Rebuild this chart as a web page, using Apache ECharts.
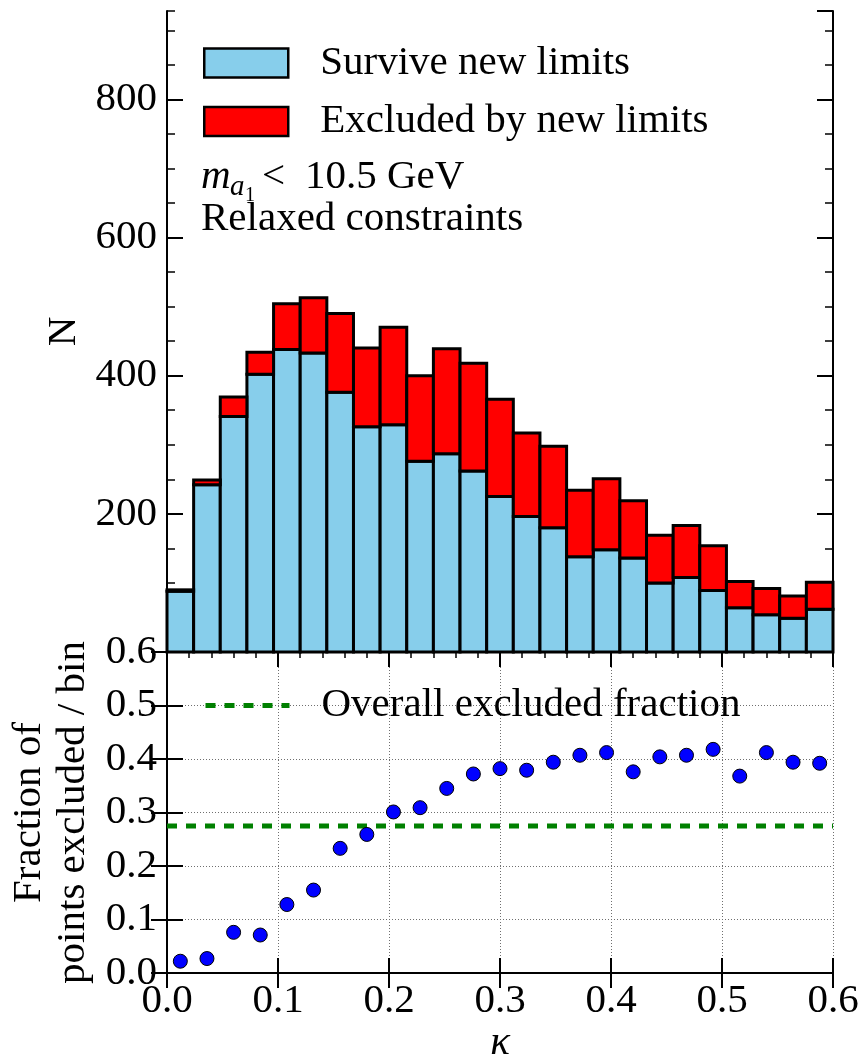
<!DOCTYPE html>
<html>
<head>
<meta charset="utf-8">
<script src="https://cdn.jsdelivr.net/npm/echarts@6/dist/echarts.min.js"></script>
<style>
  html, body { margin: 0; padding: 0; background: #fff; }
  #chart { width: 862px; height: 1060px; }
</style>
</head>
<body>
<div id="chart"></div>
<script>
// kappa bins (edges and centres)
const kappaEdges = [0.000, 0.024, 0.048, 0.072, 0.096, 0.120, 0.144, 0.168, 0.192, 0.216,
                    0.240, 0.264, 0.288, 0.312, 0.336, 0.360, 0.384, 0.408, 0.432, 0.456,
                    0.480, 0.504, 0.528, 0.552, 0.576, 0.600];
const kappaCenters = [0.012, 0.036, 0.060, 0.084, 0.108, 0.132, 0.156, 0.180, 0.204, 0.228,
                      0.252, 0.276, 0.300, 0.324, 0.348, 0.372, 0.396, 0.420, 0.444, 0.468,
                      0.492, 0.516, 0.540, 0.564, 0.588];

// points per bin
const surviveCounts  = [88, 242, 341, 402, 438, 433, 376, 326, 329, 276, 287, 262, 225,
                        196, 180, 138, 148, 136, 100, 108, 89, 64, 54, 49, 62];
const excludedCounts = [2, 7, 28, 32, 66, 80, 114, 114, 141, 124, 152, 156, 141,
                        121, 118, 96, 103, 83, 69, 75, 65, 38, 38, 32, 39];

// excluded fraction per bin
const excludedFraction = [0.022, 0.027, 0.076, 0.071, 0.128, 0.155, 0.233, 0.259, 0.301, 0.309,
                          0.345, 0.372, 0.382, 0.379, 0.394, 0.407, 0.412, 0.376, 0.404, 0.407,
                          0.418, 0.368, 0.412, 0.394, 0.392];
const overallExcludedFraction = 0.275;

// tick labels
const countTickLabels = ['200', '400', '600', '800'];
const fractionTickLabels = ['0.0', '0.1', '0.2', '0.3', '0.4', '0.5', '0.6'];
const kappaTickLabels = ['0.0', '0.1', '0.2', '0.3', '0.4', '0.5', '0.6'];

const SERIF = "'Liberation Serif', 'Times New Roman', 'DejaVu Serif', serif";
const FS = 41;

const surviveData = kappaEdges.slice(0, -1).map((lo, i) =>
  [lo, kappaEdges[i + 1], 0, surviveCounts[i]]);
const excludedData = kappaEdges.slice(0, -1).map((lo, i) =>
  [lo, kappaEdges[i + 1], surviveCounts[i], surviveCounts[i] + excludedCounts[i]]);
const fractionData = kappaCenters.map((k, i) => [k, excludedFraction[i]]);

// one stacked histogram segment per bin, outlined in black
function histSegment(color) {
  return function (params, api) {
    const p0 = api.coord([api.value(0), api.value(2)]);
    const p1 = api.coord([api.value(1), api.value(3)]);
    return {
      type: 'rect',
      shape: { x: p0[0], y: p1[1], width: p1[0] - p0[0], height: p0[1] - p1[1] },
      style: { fill: color, stroke: '#000', lineWidth: 3 }
    };
  };
}

const axisLine = { show: true, lineStyle: { color: '#000', width: 2 } };
const dotted = { show: true, lineStyle: { color: '#6f6f6f', width: 1, type: [1, 2] } };

function kappaAxis(grid, pos, opts) {
  return Object.assign({
    type: 'value', gridIndex: grid, position: pos, min: 0, max: 0.6, interval: 0.1,
    axisLine: axisLine,
    axisTick: { show: true, inside: true, length: 15, lineStyle: { color: '#000', width: 2 } },
    axisLabel: { show: false },
    splitLine: { show: false }
  }, opts);
}

const minorKappaTicks = { show: true, splitNumber: 5, length: 6, lineStyle: { color: '#000', width: 1.5 } };

const option = {
  animation: false,
  backgroundColor: '#fff',
  textStyle: { fontFamily: SERIF },
  grid: [
    { left: 167, top: 11, width: 666, height: 641, outerBoundsMode: 'none', containLabel: false },
    { left: 167, top: 652, width: 666, height: 321, outerBoundsMode: 'none', containLabel: false }
  ],
  xAxis: [
    kappaAxis(0, 'bottom', { minorTick: minorKappaTicks }),
    kappaAxis(0, 'top', { minorTick: minorKappaTicks }),
    kappaAxis(1, 'bottom', {
      splitLine: dotted,
      axisLabel: {
        show: true, margin: 8, fontFamily: SERIF, fontSize: FS, color: '#000',
        formatter: v => kappaTickLabels[Math.round(v * 10)]
      },
      name: 'κ', nameLocation: 'middle', nameGap: 47,
      nameTextStyle: { fontFamily: SERIF, fontSize: FS, fontStyle: 'italic', color: '#000' }
    }),
    kappaAxis(1, 'top', {})
  ],
  yAxis: [
    {
      type: 'value', gridIndex: 0, position: 'left', min: 0, max: 928, interval: 200,
      axisLine: axisLine,
      axisTick: { show: true, inside: true, length: 16, lineStyle: { color: '#000', width: 2 } },
      axisLabel: {
        show: true, margin: 10, fontFamily: SERIF, fontSize: FS, color: '#000',
        showMinLabel: false, showMaxLabel: false,
        formatter: v => countTickLabels[Math.round(v / 200) - 1] || ''
      },
      splitLine: { show: false },
      name: 'N', nameLocation: 'middle', nameGap: 82, nameRotate: 90,
      nameTextStyle: { fontFamily: SERIF, fontSize: FS, color: '#000' }
    },
    {
      type: 'value', gridIndex: 0, position: 'left', min: 0, max: 928, interval: 50,
      axisLine: { show: false },
      axisTick: { show: true, inside: true, length: 8, lineStyle: { color: '#000', width: 1.5 } },
      axisLabel: { show: false }, splitLine: { show: false }
    },
    {
      type: 'value', gridIndex: 0, position: 'right', min: 0, max: 928, interval: 200,
      axisLine: axisLine,
      axisTick: { show: true, inside: true, length: 16, lineStyle: { color: '#000', width: 2 } },
      axisLabel: { show: false }, splitLine: { show: false }
    },
    {
      type: 'value', gridIndex: 0, position: 'right', min: 0, max: 928, interval: 50,
      axisLine: { show: false },
      axisTick: { show: true, inside: true, length: 8, lineStyle: { color: '#000', width: 1.5 } },
      axisLabel: { show: false }, splitLine: { show: false }
    },
    {
      type: 'value', gridIndex: 1, position: 'left', min: 0, max: 0.6, interval: 0.1,
      axisLine: axisLine,
      axisTick: { show: true, inside: true, length: 16, lineStyle: { color: '#000', width: 2 } },
      axisLabel: {
        show: true, margin: 10, fontFamily: SERIF, fontSize: FS, color: '#000',
        formatter: v => fractionTickLabels[Math.round(v * 10)]
      },
      splitLine: dotted,
      name: 'Fraction of\npoints excluded / bin', nameLocation: 'middle', nameGap: 67, nameRotate: 90,
      nameTextStyle: { fontFamily: SERIF, fontSize: FS, lineHeight: 44, color: '#000' }
    },
    {
      type: 'value', gridIndex: 1, position: 'right', min: 0, max: 0.6, interval: 0.1,
      axisLine: axisLine,
      axisTick: { show: true, inside: true, length: 16, lineStyle: { color: '#000', width: 2 } },
      axisLabel: { show: false }, splitLine: { show: false }
    }
  ],
  legend: [
    {
      data: [
        { name: 'Survive new limits', icon: 'rect', itemStyle: { color: '#87ceeb', borderColor: '#000', borderWidth: 2.5 } },
        { name: 'Excluded by new limits', icon: 'rect', itemStyle: { color: '#ff0000', borderColor: '#000', borderWidth: 2.5 } }
      ],
      orient: 'vertical', left: 203, top: 42.5, padding: 0,
      itemWidth: 84, itemHeight: 29, itemGap: 17.5,
      selectedMode: false,
      textStyle: { fontFamily: SERIF, fontSize: FS, color: '#000', padding: [0, 0, 0, 27] }
    },
    {
      data: [{ name: 'Overall excluded fraction' }],
      orient: 'vertical', left: 203, top: 685, padding: 0,
      itemWidth: 84, itemHeight: 29,
      selectedMode: false,
      itemStyle: { color: 'rgba(0,0,0,0)', borderWidth: 0, opacity: 0 },
      lineStyle: { width: 5, color: '#008000', type: [10, 9], cap: 'butt' },
      textStyle: { fontFamily: SERIF, fontSize: FS, color: '#000', padding: [0, 0, 0, 27] }
    }
  ],
  graphic: [
    { type: 'text', left: 201, top: 157, style: { text: 'm', font: 'italic 41px ' + SERIF, fill: '#000' } },
    { type: 'text', left: 230, top: 173, style: { text: 'a', font: 'italic 29px ' + SERIF, fill: '#000' } },
    { type: 'text', left: 245, top: 186, style: { text: '1', font: '20px ' + SERIF, fill: '#000' } },
    { type: 'text', left: 262, top: 157, style: { text: '<', font: '41px ' + SERIF, fill: '#000' } },
    { type: 'text', left: 305, top: 157, style: { text: '10.5 GeV', font: '41px ' + SERIF, fill: '#000' } },
    { type: 'text', left: 201, top: 199, style: { text: 'Relaxed constraints', font: '41px ' + SERIF, fill: '#000' } }
  ],
  series: [
    {
      name: 'Survive new limits', type: 'custom', coordinateSystem: 'cartesian2d',
      xAxisIndex: 0, yAxisIndex: 0, renderItem: histSegment('#87ceeb'),
      itemStyle: { color: '#87ceeb' },
      encode: { x: [0, 1], y: [2, 3] }, data: surviveData, z: 2
    },
    {
      name: 'Excluded by new limits', type: 'custom', coordinateSystem: 'cartesian2d',
      xAxisIndex: 0, yAxisIndex: 0, renderItem: histSegment('#ff0000'),
      itemStyle: { color: '#ff0000' },
      encode: { x: [0, 1], y: [2, 3] }, data: excludedData, z: 3
    },
    {
      name: 'Overall excluded fraction', type: 'line', xAxisIndex: 2, yAxisIndex: 4,
      data: [[0, overallExcludedFraction], [0.6, overallExcludedFraction]],
      symbol: 'none', silent: true, z: 3,
      lineStyle: { color: '#008000', width: 5, type: [10, 9], cap: 'butt' },
      itemStyle: { color: '#008000' }
    },
    {
      name: 'Excluded fraction', type: 'scatter', xAxisIndex: 2, yAxisIndex: 4,
      data: fractionData, symbol: 'circle', symbolSize: 14, z: 4,
      itemStyle: { color: '#0000ff', borderColor: '#000', borderWidth: 1, opacity: 1 }
    }
  ]
};

const chart = echarts.init(document.getElementById('chart'), null, { renderer: 'canvas' });
chart.setOption(option);
</script>
</body>
</html>
